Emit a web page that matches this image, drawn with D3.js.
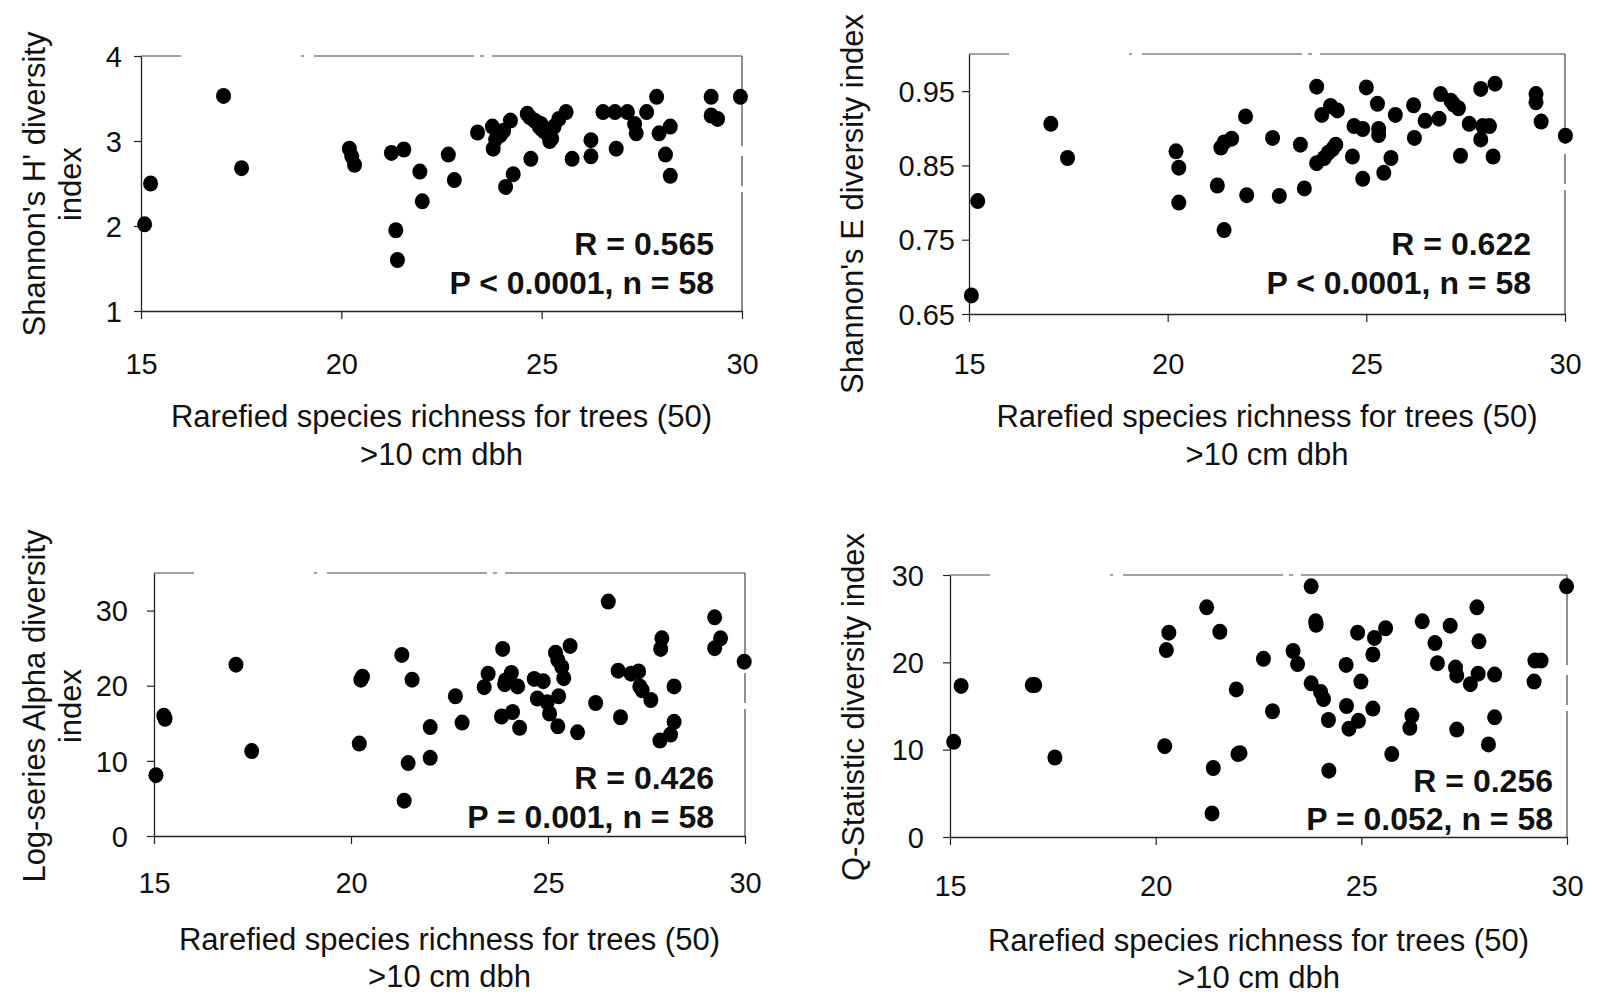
<!DOCTYPE html>
<html>
<head>
<meta charset="utf-8">
<script src="https://cdn.jsdelivr.net/npm/d3@7"></script>
<style>
  html, body { margin: 0; padding: 0; background: #fff; }
  svg { display: block; }
  text { font-family: "Liberation Sans", Arial, sans-serif; fill: #111; }
  .tick-label { font-size: 29px; }
  .axis-title { font-size: 31px; }
  .stat { font-family: "Liberation Sans Narrow", "Liberation Sans", Arial, sans-serif; font-size: 32px; font-weight: bold; }
</style>
</head>
<body>
<svg id="chart"></svg>
<script>
// Rarefied species richness (x) and diversity index (y)
const shannonHX = [15.09, 15.24, 17.06, 17.51, 20.20, 20.26, 20.33, 21.25, 21.56, 21.36, 21.40, 21.96, 22.02, 22.67, 22.82,
  23.40, 23.77, 23.79, 23.97, 24.22, 24.10, 24.29, 24.73, 24.64, 24.82, 24.94, 25.07, 25.25, 25.31, 25.43, 25.61,
  24.70, 24.98, 25.15, 25.20, 23.85, 24.05, 25.76, 26.23, 26.23, 26.53, 26.83, 26.86, 27.14, 27.32, 27.36, 27.62,
  27.87, 27.93, 28.21, 28.09, 28.21, 29.23, 29.23, 29.39, 29.96, 25.00, 24.88];
const shannonH = [2.02, 2.50, 3.53, 2.68, 2.91, 2.82, 2.72, 2.86, 2.90, 1.95, 1.60, 2.64, 2.29, 2.84, 2.54,
  3.10, 3.17, 2.91, 3.07, 3.24, 2.46, 2.61, 2.79, 3.32, 3.24, 3.17, 3.11, 3.03, 3.17, 3.26, 3.34,
  3.28, 3.20, 3.08, 3.00, 3.02, 3.12, 2.79, 3.01, 2.82, 3.34, 3.34, 2.91, 3.34, 3.20, 3.09, 3.34,
  3.52, 3.09, 3.17, 2.84, 2.59, 3.52, 3.30, 3.26, 3.52, 3.14, 3.22];

const shannonEX = [15.06, 15.22, 17.06, 17.48, 20.21, 20.28, 20.28, 21.25, 21.34, 21.42, 21.42, 21.61, 21.96, 21.99, 22.64,
  22.81, 23.34, 23.44, 23.75, 23.75, 23.88, 23.94, 24.04, 24.10, 24.23, 24.27, 24.65, 24.69, 24.91, 24.91, 25.00,
  25.28, 25.31, 25.31, 25.44, 25.62, 25.73, 26.19, 26.21, 26.48, 26.83, 26.87, 27.13, 27.32, 27.37, 27.59, 27.88,
  27.88, 27.93, 28.10, 28.19, 28.24, 29.27, 29.27, 29.40, 30.01, 24.15, 27.20];
const shannonE = [0.675, 0.802, 0.906, 0.860, 0.869, 0.847, 0.800, 0.823, 0.874, 0.763, 0.881, 0.886, 0.916, 0.810, 0.887,
  0.809, 0.878, 0.819, 0.956, 0.853, 0.918, 0.860, 0.867, 0.930, 0.878, 0.924, 0.862, 0.903, 0.832, 0.899, 0.955,
  0.933, 0.899, 0.891, 0.840, 0.860, 0.918, 0.931, 0.887, 0.910, 0.913, 0.946, 0.937, 0.927, 0.863, 0.906, 0.953,
  0.885, 0.903, 0.903, 0.862, 0.960, 0.946, 0.935, 0.909, 0.890, 0.872, 0.932];

const alphaX = [15.05, 15.25, 17.08, 17.48, 20.21, 20.29, 21.29, 21.35, 21.45, 21.55, 22.01, 22.01, 22.65, 22.82, 23.38,
  23.48, 23.82, 23.85, 23.92, 24.07, 24.10, 24.23, 24.28, 24.65, 24.73, 24.88, 24.98, 25.04, 25.19, 25.25, 25.27,
  25.25, 25.35, 25.40, 25.56, 25.75, 26.21, 26.53, 26.78, 26.84, 27.11, 27.30, 27.33, 27.39, 27.61, 27.86, 27.89,
  27.84, 28.11, 28.20, 28.20, 29.23, 29.23, 29.38, 29.98, 20.25, 23.90, 15.28];
const alpha = [8.1, 16.0, 22.8, 11.3, 12.3, 21.2, 24.1, 4.7, 9.7, 20.8, 14.5, 10.4, 18.6, 15.1, 19.8,
  21.6, 15.9, 24.9, 20.7, 21.7, 16.5, 19.9, 14.4, 20.9, 18.3, 20.6, 17.8, 16.3, 24.4, 23.4, 18.6,
  14.6, 22.5, 21.0, 25.3, 13.8, 17.7, 31.2, 22.0, 15.8, 21.6, 21.9, 19.9, 19.4, 18.1, 24.9, 26.3,
  12.7, 13.5, 19.9, 15.2, 29.1, 25.0, 26.3, 23.2, 20.8, 20.2, 15.6];

const qstatX = [15.09, 15.27, 17.06, 17.55, 20.22, 20.26, 20.32, 21.24, 21.37, 21.40, 21.56, 21.96, 22.00, 22.62, 22.84,
  23.34, 23.45, 23.78, 23.78, 23.89, 24.01, 24.08, 24.20, 24.21, 24.63, 24.64, 24.70, 24.91, 24.93, 24.99, 25.28,
  25.28, 25.32, 25.59, 25.74, 26.18, 26.23, 26.48, 26.79, 26.85, 27.16, 27.29, 27.32, 27.32, 27.65, 27.81, 27.86,
  27.84, 28.09, 28.24, 28.24, 29.20, 29.22, 29.37, 29.99, 17.00, 23.90, 22.05];
const qstat = [10.9, 17.3, 17.4, 9.1, 10.4, 21.4, 23.4, 26.3, 2.7, 7.9, 23.5, 16.9, 9.5, 20.4, 14.4,
  21.3, 19.8, 28.7, 17.6, 24.7, 16.6, 15.8, 13.4, 7.6, 19.7, 15.0, 12.4, 23.4, 13.3, 17.8, 20.9,
  14.7, 22.8, 23.9, 9.5, 12.5, 13.9, 24.7, 22.2, 19.9, 24.2, 19.4, 12.3, 18.5, 17.5, 26.3, 22.4,
  18.7, 10.6, 18.6, 13.7, 17.8, 20.2, 20.2, 28.7, 17.4, 24.3, 9.6];

const xTicks = [15, 20, 25, 30];
const yTitles = [["Shannon's H' diversity", "index"], ["Shannon's E diversity index"],
  ["Log-series Alpha diversity", "index"], ["Q-Statistic diversity index"]];
const statLines = [["R = 0.565", "P < 0.0001, n = 58"], ["R = 0.622", "P < 0.0001, n = 58"],
  ["R = 0.426", "P = 0.001, n = 58"], ["R = 0.256", "P = 0.052, n = 58"]];
const xTitle = ["Rarefied species richness for trees (50)", ">10 cm dbh"];

// panel layout (pixel frames of each plot area)
const panels = [
  { xs: shannonHX, ys: shannonH, yDomain: [1, 4], yTicks: [1, 2, 3, 4], fmt: d3.format("d"),
    left: 141, right: 742, top: 56, bottom: 311, titleX: [45, 81], titleY: 184, statRight: 714, statY: [255, 294],
    labelGap: 19, xLabelY: 374, xTitleY: [427, 465] },
  { xs: shannonEX, ys: shannonE, yDomain: [0.65, 1.0], yTicks: [0.65, 0.75, 0.85, 0.95], fmt: d3.format(".2f"),
    left: 969, right: 1565, top: 54, bottom: 314, titleX: [863], titleY: 204, statRight: 1531, statY: [255, 294],
    labelGap: 14, xLabelY: 374, xTitleY: [427, 465] },
  { xs: alphaX, ys: alpha, yDomain: [0, 35], yTicks: [0, 10, 20, 30], fmt: d3.format("d"),
    left: 154, right: 745, top: 573, bottom: 836, titleX: [45, 81], titleY: 706, statRight: 714, statY: [789, 828],
    labelGap: 26, xLabelY: 893, xTitleY: [950, 987] },
  { xs: qstatX, ys: qstat, yDomain: [0, 30], yTicks: [0, 10, 20, 30], fmt: d3.format("d"),
    left: 950, right: 1567, top: 575, bottom: 837, titleX: [864], titleY: 707, statRight: 1553, statY: [792, 830],
    labelGap: 26, xLabelY: 896, xTitleY: [951, 988] }
];

const svg = d3.select("#chart").attr("width", 1605).attr("height", 994);

panels.forEach((p, i) => {
  const x = d3.scaleLinear().domain([15, 30]).range([p.left, p.right]);
  const y = d3.scaleLinear().domain(p.yDomain).range([p.bottom, p.top]);
  const g = svg.append("g");

  // broken top / right frame, like the scanned original
  g.append("line")
    .attr("x1", p.left).attr("x2", p.right).attr("y1", p.top).attr("y2", p.top)
    .attr("stroke", "#444").attr("stroke-width", 1.2)
    .attr("stroke-dasharray", "40,120,3,10,160,6,4,8,300");
  g.append("line")
    .attr("x1", p.right).attr("x2", p.right).attr("y1", p.top).attr("y2", p.bottom)
    .attr("stroke", "#444").attr("stroke-width", 1.2)
    .attr("stroke-dasharray", "90,10,30,6,200");

  // y axis
  const yAxis = g.append("g")
    .attr("transform", `translate(${p.left},0)`)
    .call(d3.axisLeft(y).tickValues(p.yTicks).tickFormat(p.fmt).tickSize(7).tickSizeOuter(0));
  yAxis.select(".domain").attr("stroke", "#222").attr("stroke-width", 1.3);
  yAxis.selectAll(".tick line").attr("stroke", "#222").attr("stroke-width", 1.2);
  yAxis.selectAll(".tick text")
    .attr("class", "tick-label").attr("x", -p.labelGap).attr("dy", "0.35em")
    .attr("font-size", null).attr("font-family", null);

  // x axis
  const xAxis = g.append("g")
    .attr("transform", `translate(0,${p.bottom})`)
    .call(d3.axisBottom(x).tickValues(xTicks).tickFormat(d3.format("d")).tickSize(8).tickSizeOuter(0));
  xAxis.select(".domain").attr("stroke", "#222").attr("stroke-width", 1.3);
  xAxis.selectAll(".tick line").attr("stroke", "#222").attr("stroke-width", 1.2);
  xAxis.selectAll(".tick text")
    .attr("class", "tick-label").attr("y", p.xLabelY - p.bottom).attr("dy", null)
    .attr("font-size", null).attr("font-family", null);
  g.selectAll(".tick text").style("fill", "#111");

  // points
  g.append("g").selectAll("ellipse")
    .data(p.xs.map((d, k) => [d, p.ys[k]]))
    .join("ellipse")
    .attr("cx", d => x(d[0]))
    .attr("cy", d => y(d[1]))
    .attr("rx", 7.5).attr("ry", 8)
    .attr("fill", "#000");

  // x title
  const cx = (p.left + p.right) / 2;
  xTitle.forEach((t, k) => {
    g.append("text").attr("class", "axis-title")
      .attr("x", cx).attr("y", p.xTitleY[k]).attr("text-anchor", "middle").text(t);
  });

  // y title
  yTitles[i].forEach((t, k) => {
    g.append("text").attr("class", "axis-title")
      .attr("transform", `translate(${p.titleX[k]},${p.titleY}) rotate(-90)`)
      .attr("text-anchor", "middle").text(t);
  });

  // statistics
  statLines[i].forEach((t, k) => {
    g.append("text").attr("class", "stat")
      .attr("x", p.statRight).attr("y", p.statY[k]).attr("text-anchor", "end").text(t);
  });
});
</script>
</body>
</html>
